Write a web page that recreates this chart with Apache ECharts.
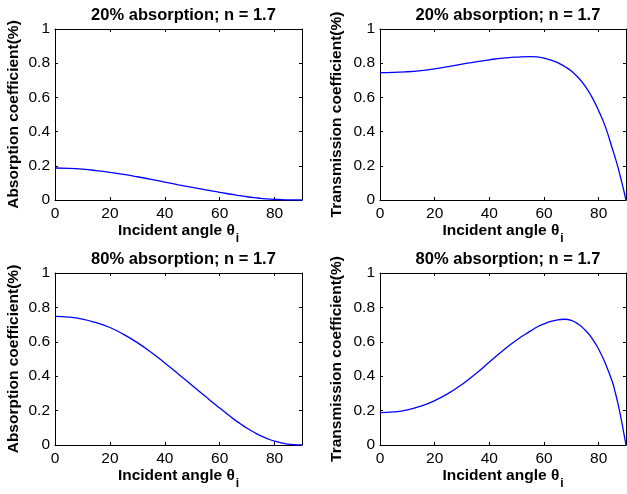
<!DOCTYPE html>
<html>
<head>
<meta charset="utf-8">
<script src="https://cdn.jsdelivr.net/npm/echarts@6/dist/echarts.min.js"></script>
<style>
html,body{margin:0;padding:0;background:#fff;}
#c{width:627px;height:494px;}
</style>
</head>
<body>
<div id="c"></div>
<script>
// Incident angles (degrees)
const angles = [0,5,10,15,20,25,30,35,40,45,50,55,57.5,60,62.5,65,67.5,70,72.5,75,77.5,80,82.5,85,86,87,88,89,90];
// 20% absorption, n = 1.7
const absorption20   = [0.187,0.185,0.180,0.172,0.162,0.150,0.136,0.121,0.105,0.089,0.074,0.059,0.052,0.045,0.038,0.031,0.025,0.019,0.014,0.010,0.006,0.004,0.002,0.001,0.0007,0.0004,0.0002,0.0001,0];
const transmission20 = [0.745,0.746,0.750,0.757,0.767,0.780,0.794,0.808,0.820,0.830,0.836,0.839,0.837,0.830,0.818,0.803,0.781,0.754,0.716,0.667,0.603,0.522,0.426,0.300,0.250,0.195,0.133,0.068,0];
// 80% absorption, n = 1.7
const absorption80   = [0.748,0.744,0.732,0.711,0.683,0.643,0.595,0.539,0.477,0.412,0.346,0.280,0.247,0.215,0.183,0.152,0.124,0.097,0.074,0.053,0.036,0.022,0.012,0.005,0.003,0.002,0.001,0.0003,0];
const transmission80 = [0.188,0.192,0.204,0.226,0.258,0.300,0.352,0.414,0.482,0.550,0.611,0.662,0.686,0.704,0.719,0.728,0.731,0.724,0.703,0.669,0.622,0.557,0.472,0.368,0.310,0.245,0.170,0.087,0];

const titles = ['20% absorption; n = 1.7','20% absorption; n = 1.7','80% absorption; n = 1.7','80% absorption; n = 1.7'];
const yNames = ['Absorption coefficient(%)','Transmission coefficient(%)','Absorption coefficient(%)','Transmission coefficient(%)'];
const xName = 'Incident angle θ';
const xTicks = [0,20,40,60,80];
const yTicks = [0,0.2,0.4,0.6,0.8,1];
const seriesValues = [absorption20, transmission20, absorption80, transmission80];

const FONT = '"Liberation Sans", Arial, Helvetica, sans-serif';
const grids = [
  {left:55, top:29, width:247, height:171},
  {left:380, top:29, width:246, height:171},
  {left:55, top:273, width:247, height:172},
  {left:380, top:273, width:246, height:172}
];
const yNameGaps = [33, 35, 33, 35];

const option = {
  animation:false,
  backgroundColor:'#fff',
  title:[], grid:[], xAxis:[], yAxis:[], series:[]
};

grids.forEach((g,i)=>{
  option.grid.push(Object.assign({containLabel:false, show:false}, g));
  option.title.push({
    text:titles[i], left:g.left + g.width/2, top:g.top - 27, textAlign:'center',
    textStyle:{fontFamily:FONT, fontWeight:'bold', fontSize:16.5, color:'#000'}
  });
  const lineStyle = {color:'#000', width:1};
  // bottom x axis
  option.xAxis.push({
    type:'value', gridIndex:i, min:0, max:90, interval:20, position:'bottom',
    name:'{a|' + xName + '}{s|i}', nameLocation:'middle', nameGap:17,
    nameTextStyle:{rich:{
      a:{fontFamily:FONT, fontWeight:'bold', fontSize:15.5, color:'#000'},
      s:{fontFamily:FONT, fontWeight:'bold', fontSize:12, color:'#000', padding:[15,0,0,1]}
    }},
    axisLine:{show:true, onZero:false, lineStyle},
    axisTick:{show:true, inside:true, length:3, lineStyle},
    splitLine:{show:false},
    axisLabel:{show:true, margin:6, fontFamily:FONT, fontSize:15.5, color:'#000', showMaxLabel:false,
      formatter:v => xTicks.indexOf(v) >= 0 ? String(v) : ''}
  });
  // top x axis (box)
  option.xAxis.push({
    type:'value', gridIndex:i, min:0, max:90, interval:20, position:'top',
    axisLine:{show:true, onZero:false, lineStyle},
    axisTick:{show:true, inside:true, length:3, lineStyle},
    splitLine:{show:false}, axisLabel:{show:false}
  });
  // left y axis
  option.yAxis.push({
    type:'value', gridIndex:i, min:0, max:1, interval:0.2, position:'left',
    name:yNames[i], nameLocation:'middle', nameGap:yNameGaps[i], nameRotate:90,
    nameTextStyle:{fontFamily:FONT, fontWeight:'bold', fontSize:15.5, color:'#000'},
    axisLine:{show:true, onZero:false, lineStyle},
    axisTick:{show:true, inside:true, length:3, lineStyle},
    splitLine:{show:false},
    axisLabel:{show:true, margin:5, fontFamily:FONT, fontSize:15.5, color:'#000',
      formatter:v => { const t = yTicks.find(k => Math.abs(k-v) < 1e-9); return t === undefined ? '' : String(t); }}
  });
  // right y axis (box)
  option.yAxis.push({
    type:'value', gridIndex:i, min:0, max:1, interval:0.2, position:'right',
    axisLine:{show:true, onZero:false, lineStyle},
    axisTick:{show:true, inside:true, length:3, lineStyle},
    splitLine:{show:false}, axisLabel:{show:false}
  });
  option.series.push({
    type:'line', xAxisIndex:2*i, yAxisIndex:2*i,
    data:angles.map((a,k)=>[a, seriesValues[i][k]]),
    showSymbol:false, smooth:0.5, clip:false,
    lineStyle:{color:'#0000ff', width:1.3}
  });
});

const chart = echarts.init(document.getElementById('c'), null, {renderer:'canvas'});
chart.setOption(option);
</script>
</body>
</html>
